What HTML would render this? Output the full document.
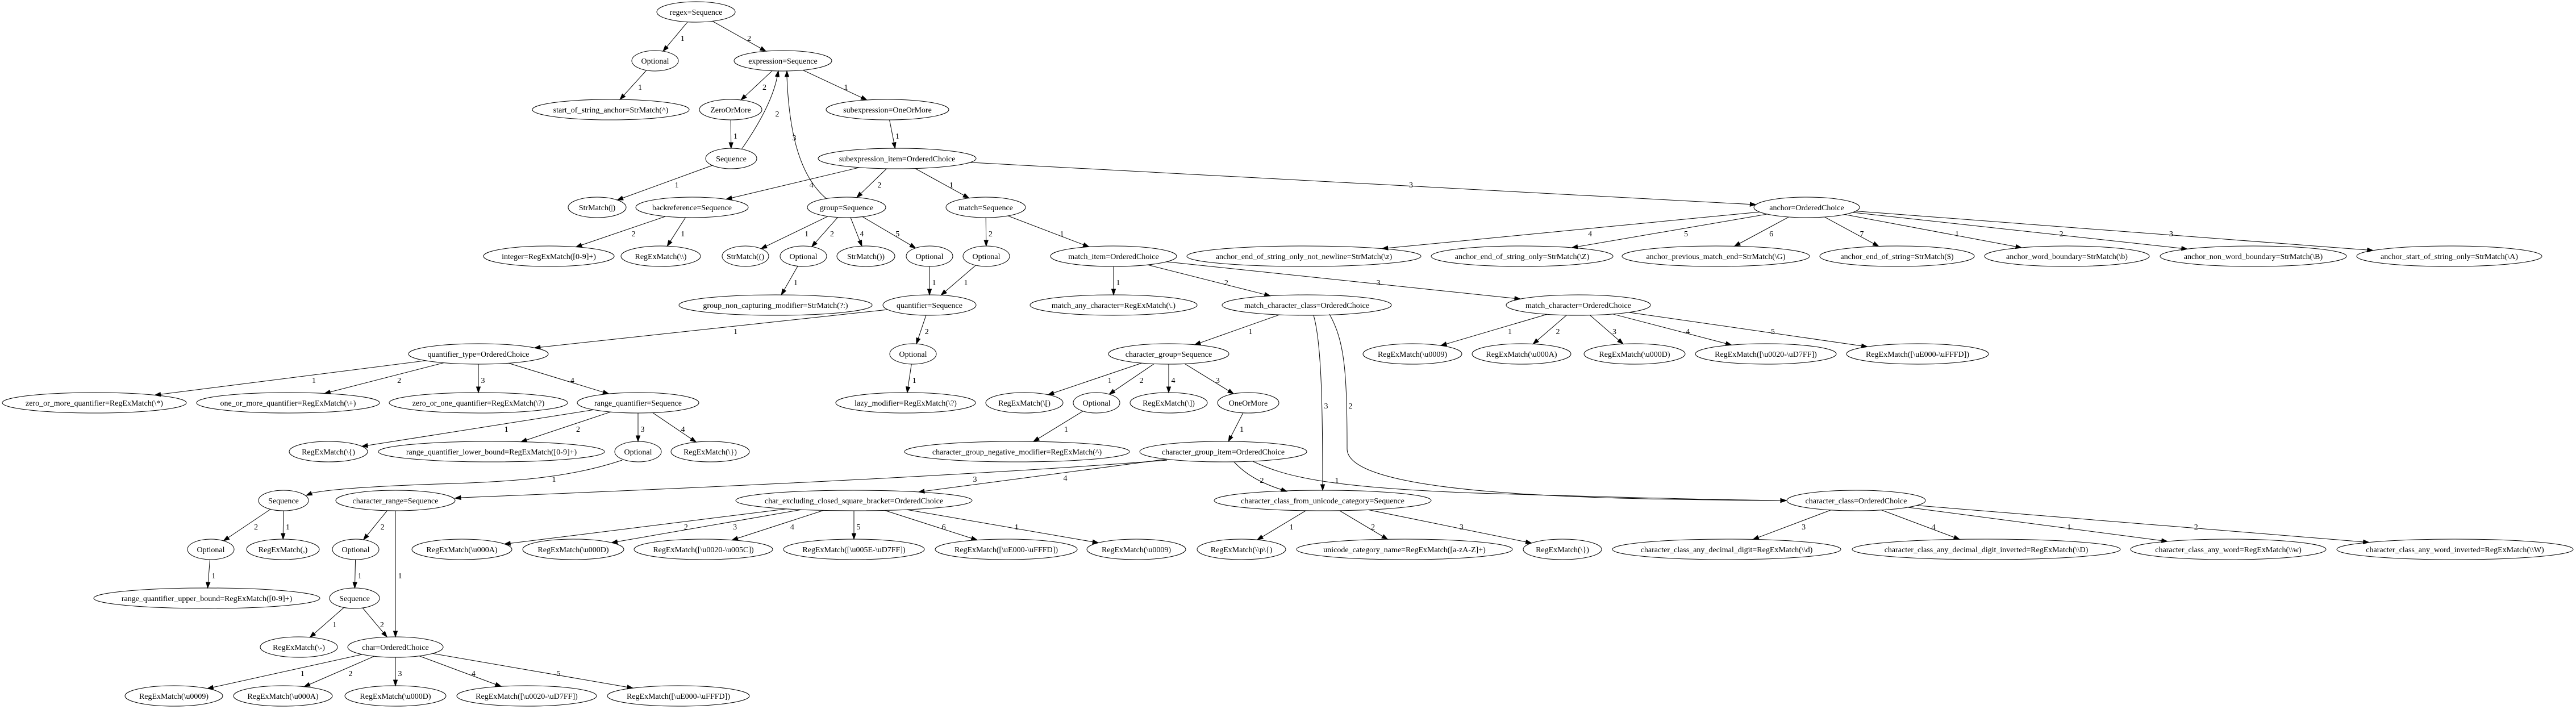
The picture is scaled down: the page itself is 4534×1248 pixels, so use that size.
<!DOCTYPE html>
<html><head><meta charset="utf-8"><style>
html,body{margin:0;padding:0;background:#fff}
svg{display:block}
text{font-family:"Liberation Serif",serif;font-size:14px;text-anchor:middle;fill:#000}
ellipse{fill:none;stroke:#000;stroke-width:1}
</style></head><body>
<svg id="s" width="4534" height="1248" viewBox="0 0 4534 1248" xmlns="http://www.w3.org/2000/svg">
<rect width="4534" height="1248" fill="#fff"/>
<g id="edges"></g>
<g id="nodes">
<ellipse id="regex" cx="1225" cy="21" rx="69" ry="18"/><text x="1225" y="26">regex=Sequence</text>
<ellipse id="opt1" cx="1153" cy="107" rx="41" ry="18"/><text x="1153" y="112">Optional</text>
<ellipse id="expr" cx="1378" cy="107" rx="86" ry="18"/><text x="1378" y="112">expression=Sequence</text>
<ellipse id="sosa" cx="1075" cy="193" rx="138" ry="18"/><text x="1075" y="198">start_of_string_anchor=StrMatch(^)</text>
<ellipse id="zom" cx="1286" cy="193" rx="55" ry="18"/><text x="1286" y="198">ZeroOrMore</text>
<ellipse id="subx" cx="1562" cy="193" rx="108" ry="18"/><text x="1562" y="198">subexpression=OneOrMore</text>
<ellipse id="seq1" cx="1287" cy="279" rx="45" ry="18"/><text x="1287" y="284">Sequence</text>
<ellipse id="subi" cx="1579" cy="279" rx="139" ry="18"/><text x="1579" y="284">subexpression_item=OrderedChoice</text>
<ellipse id="strbar" cx="1051" cy="365" rx="51" ry="18"/><text x="1051" y="370">StrMatch(|)</text>
<ellipse id="backref" cx="1218" cy="365" rx="99" ry="18"/><text x="1218" y="370">backreference=Sequence</text>
<ellipse id="group" cx="1490" cy="365" rx="69" ry="18"/><text x="1490" y="370">group=Sequence</text>
<ellipse id="match" cx="1735" cy="365" rx="70" ry="18"/><text x="1735" y="370">match=Sequence</text>
<ellipse id="anchor" cx="3180" cy="365" rx="93" ry="18"/><text x="3180" y="370">anchor=OrderedChoice</text>
<ellipse id="integer" cx="966" cy="451" rx="115" ry="18"/><text x="966" y="456">integer=RegExMatch([0-9]+)</text>
<ellipse id="rebs" cx="1163" cy="451" rx="70" ry="18"/><text x="1163" y="456">RegExMatch(\\)</text>
<ellipse id="stro" cx="1312" cy="451" rx="41" ry="18"/><text x="1312" y="456">StrMatch(()</text>
<ellipse id="opt2" cx="1414" cy="451" rx="41" ry="18"/><text x="1414" y="456">Optional</text>
<ellipse id="strc" cx="1524" cy="451" rx="51" ry="18"/><text x="1524" y="456">StrMatch())</text>
<ellipse id="opt3" cx="1636" cy="451" rx="41" ry="18"/><text x="1636" y="456">Optional</text>
<ellipse id="opt4" cx="1736" cy="451" rx="41" ry="18"/><text x="1736" y="456">Optional</text>
<ellipse id="mitem" cx="1960" cy="451" rx="111" ry="18"/><text x="1960" y="456">match_item=OrderedChoice</text>
<ellipse id="a1" cx="2295" cy="451" rx="206" ry="18"/><text x="2295" y="456">anchor_end_of_string_only_not_newline=StrMatch(\z)</text>
<ellipse id="a2" cx="2679" cy="451" rx="160" ry="18"/><text x="2679" y="456">anchor_end_of_string_only=StrMatch(\Z)</text>
<ellipse id="a3" cx="3020" cy="451" rx="165" ry="18"/><text x="3020" y="456">anchor_previous_match_end=StrMatch(\G)</text>
<ellipse id="a4" cx="3339" cy="451" rx="136" ry="18"/><text x="3339" y="456">anchor_end_of_string=StrMatch($)</text>
<ellipse id="a5" cx="3638" cy="451" rx="145" ry="18"/><text x="3638" y="456">anchor_word_boundary=StrMatch(\b)</text>
<ellipse id="a6" cx="3966" cy="451" rx="164" ry="18"/><text x="3966" y="456">anchor_non_word_boundary=StrMatch(\B)</text>
<ellipse id="a7" cx="4311" cy="451" rx="163" ry="18"/><text x="4311" y="456">anchor_start_of_string_only=StrMatch(\A)</text>
<ellipse id="gncm" cx="1365" cy="537" rx="170" ry="18"/><text x="1365" y="542">group_non_capturing_modifier=StrMatch(?:)</text>
<ellipse id="quant" cx="1636" cy="537" rx="82" ry="18"/><text x="1636" y="542">quantifier=Sequence</text>
<ellipse id="many" cx="1960" cy="537" rx="147" ry="18"/><text x="1960" y="542">match_any_character=RegExMatch(\.)</text>
<ellipse id="mcc" cx="2300" cy="537" rx="149" ry="18"/><text x="2300" y="542">match_character_class=OrderedChoice</text>
<ellipse id="mch" cx="2778" cy="537" rx="127" ry="18"/><text x="2778" y="542">match_character=OrderedChoice</text>
<ellipse id="qtype" cx="842" cy="623" rx="123" ry="18"/><text x="842" y="628">quantifier_type=OrderedChoice</text>
<ellipse id="opt5" cx="1607" cy="623" rx="41" ry="18"/><text x="1607" y="628">Optional</text>
<ellipse id="cgrp" cx="2057" cy="623" rx="106" ry="18"/><text x="2057" y="628">character_group=Sequence</text>
<ellipse id="mc1" cx="2486" cy="623" rx="87" ry="18"/><text x="2486" y="628">RegExMatch(\u0009)</text>
<ellipse id="mc2" cx="2678" cy="623" rx="87" ry="18"/><text x="2678" y="628">RegExMatch(\u000A)</text>
<ellipse id="mc3" cx="2877" cy="623" rx="89" ry="18"/><text x="2877" y="628">RegExMatch(\u000D)</text>
<ellipse id="mc4" cx="3108" cy="623" rx="124" ry="18"/><text x="3108" y="628">RegExMatch([\u0020-\uD7FF])</text>
<ellipse id="mc5" cx="3375" cy="623" rx="125" ry="18"/><text x="3375" y="628">RegExMatch([\uE000-\uFFFD])</text>
<ellipse id="q1" cx="166" cy="709" rx="162" ry="18"/><text x="166" y="714">zero_or_more_quantifier=RegExMatch(\*)</text>
<ellipse id="q2" cx="507" cy="709" rx="161" ry="18"/><text x="507" y="714">one_or_more_quantifier=RegExMatch(\+)</text>
<ellipse id="q3" cx="842" cy="709" rx="157" ry="18"/><text x="842" y="714">zero_or_one_quantifier=RegExMatch(\?)</text>
<ellipse id="rq" cx="1123" cy="709" rx="107" ry="18"/><text x="1123" y="714">range_quantifier=Sequence</text>
<ellipse id="lazy" cx="1594" cy="709" rx="123" ry="18"/><text x="1594" y="714">lazy_modifier=RegExMatch(\?)</text>
<ellipse id="lb" cx="1803" cy="709" rx="68" ry="18"/><text x="1803" y="714">RegExMatch(\[)</text>
<ellipse id="opt6" cx="1930" cy="709" rx="41" ry="18"/><text x="1930" y="714">Optional</text>
<ellipse id="rb" cx="2057" cy="709" rx="68" ry="18"/><text x="2057" y="714">RegExMatch(\])</text>
<ellipse id="oom" cx="2197" cy="709" rx="54" ry="18"/><text x="2197" y="714">OneOrMore</text>
<ellipse id="rlb" cx="578" cy="795" rx="69" ry="18"/><text x="578" y="800">RegExMatch(\{)</text>
<ellipse id="rlow" cx="865" cy="795" rx="199" ry="18"/><text x="865" y="800">range_quantifier_lower_bound=RegExMatch([0-9]+)</text>
<ellipse id="opt7" cx="1123" cy="795" rx="41" ry="18"/><text x="1123" y="800">Optional</text>
<ellipse id="rrb" cx="1250" cy="795" rx="69" ry="18"/><text x="1250" y="800">RegExMatch(\})</text>
<ellipse id="neg" cx="1790" cy="795" rx="198" ry="18"/><text x="1790" y="800">character_group_negative_modifier=RegExMatch(^)</text>
<ellipse id="cgi" cx="2153" cy="795" rx="147" ry="18"/><text x="2153" y="800">character_group_item=OrderedChoice</text>
<ellipse id="seq2" cx="499" cy="881" rx="44" ry="18"/><text x="499" y="886">Sequence</text>
<ellipse id="crange" cx="696" cy="881" rx="105" ry="18"/><text x="696" y="886">character_range=Sequence</text>
<ellipse id="cex" cx="1503" cy="881" rx="208" ry="18"/><text x="1503" y="886">char_excluding_closed_square_bracket=OrderedChoice</text>
<ellipse id="ccu" cx="2328" cy="881" rx="191" ry="18"/><text x="2328" y="886">character_class_from_unicode_category=Sequence</text>
<ellipse id="cc" cx="3267" cy="881" rx="122" ry="18"/><text x="3267" y="886">character_class=OrderedChoice</text>
<ellipse id="opt8" cx="371" cy="967" rx="41" ry="18"/><text x="371" y="972">Optional</text>
<ellipse id="comma" cx="498" cy="967" rx="64" ry="18"/><text x="498" y="972">RegExMatch(,)</text>
<ellipse id="opt9" cx="626" cy="967" rx="41" ry="18"/><text x="626" y="972">Optional</text>
<ellipse id="x2" cx="813" cy="967" rx="88" ry="18"/><text x="813" y="972">RegExMatch(\u000A)</text>
<ellipse id="x3" cx="1009" cy="967" rx="89" ry="18"/><text x="1009" y="972">RegExMatch(\u000D)</text>
<ellipse id="x4" cx="1238" cy="967" rx="122" ry="18"/><text x="1238" y="972">RegExMatch([\u0020-\u005C])</text>
<ellipse id="x5" cx="1503" cy="967" rx="124" ry="18"/><text x="1503" y="972">RegExMatch([\u005E-\uD7FF])</text>
<ellipse id="x6" cx="1771" cy="967" rx="125" ry="18"/><text x="1771" y="972">RegExMatch([\uE000-\uFFFD])</text>
<ellipse id="x1" cx="2000" cy="967" rx="87" ry="18"/><text x="2000" y="972">RegExMatch(\u0009)</text>
<ellipse id="u1" cx="2185" cy="967" rx="78" ry="18"/><text x="2185" y="972">RegExMatch(\\p\{)</text>
<ellipse id="u2" cx="2472" cy="967" rx="190" ry="18"/><text x="2472" y="972">unicode_category_name=RegExMatch([a-zA-Z]+)</text>
<ellipse id="u3" cx="2750" cy="967" rx="69" ry="18"/><text x="2750" y="972">RegExMatch(\})</text>
<ellipse id="c3" cx="3039" cy="967" rx="201" ry="18"/><text x="3039" y="972">character_class_any_decimal_digit=RegExMatch(\\d)</text>
<ellipse id="c4" cx="3496" cy="967" rx="236" ry="18"/><text x="3496" y="972">character_class_any_decimal_digit_inverted=RegExMatch(\\D)</text>
<ellipse id="c1" cx="3922" cy="967" rx="172" ry="18"/><text x="3922" y="972">character_class_any_word=RegExMatch(\\w)</text>
<ellipse id="c2" cx="4321" cy="967" rx="208" ry="18"/><text x="4321" y="972">character_class_any_word_inverted=RegExMatch(\\W)</text>
<ellipse id="rub" cx="364" cy="1053" rx="199" ry="18"/><text x="364" y="1058">range_quantifier_upper_bound=RegExMatch([0-9]+)</text>
<ellipse id="seq3" cx="624" cy="1053" rx="44" ry="18"/><text x="624" y="1058">Sequence</text>
<ellipse id="dash" cx="526" cy="1139" rx="68" ry="18"/><text x="526" y="1144">RegExMatch(\-)</text>
<ellipse id="char" cx="696" cy="1139" rx="84" ry="18"/><text x="696" y="1144">char=OrderedChoice</text>
<ellipse id="h1" cx="306" cy="1225" rx="86" ry="18"/><text x="306" y="1230">RegExMatch(\u0009)</text>
<ellipse id="h2" cx="498" cy="1225" rx="87" ry="18"/><text x="498" y="1230">RegExMatch(\u000A)</text>
<ellipse id="h3" cx="696" cy="1225" rx="89" ry="18"/><text x="696" y="1230">RegExMatch(\u000D)</text>
<ellipse id="h4" cx="927" cy="1225" rx="123" ry="18"/><text x="927" y="1230">RegExMatch([\u0020-\uD7FF])</text>
<ellipse id="h5" cx="1194" cy="1225" rx="125" ry="18"/><text x="1194" y="1230">RegExMatch([\uE000-\uFFFD])</text>
</g>
<g id="labels">
<text>1</text><text>2</text><text>1</text><text>2</text><text>1</text><text>1</text><text>2</text><text>1</text><text>1</text><text>4</text>
<text>2</text><text>1</text><text>3</text><text>2</text><text>1</text><text>1</text><text>2</text><text>4</text><text>5</text><text>3</text>
<text>1</text><text>1</text><text>2</text><text>1</text><text>1</text><text>4</text><text>5</text><text>6</text><text>7</text><text>1</text>
<text>2</text><text>3</text><text>1</text><text>2</text><text>3</text><text>1</text><text>2</text><text>1</text><text>1</text><text>3</text>
<text>2</text><text>1</text><text>2</text><text>3</text><text>4</text><text>5</text><text>1</text><text>2</text><text>3</text><text>4</text>
<text>1</text><text>2</text><text>3</text><text>4</text><text>1</text><text>2</text><text>4</text><text>3</text><text>1</text><text>1</text>
<text>1</text><text>3</text><text>4</text><text>2</text><text>1</text><text>2</text><text>1</text><text>2</text><text>1</text><text>2</text>
<text>3</text><text>4</text><text>5</text><text>6</text><text>1</text><text>1</text><text>2</text><text>3</text><text>3</text><text>4</text>
<text>1</text><text>2</text><text>1</text><text>1</text><text>1</text><text>2</text><text>1</text><text>2</text><text>3</text><text>4</text>
<text>5</text>
</g>
</svg>
<script>
(function(){
var E=[
["regex","opt1"],["regex","expr"],["opt1","sosa"],["expr","zom"],["expr","subx"],["zom","seq1"],
["seq1","expr",{d:"M1305,263 C1335,220 1360,175 1368,135",t:[1370,125],l:[1368,200]}],
["seq1","strbar"],["subx","subi"],["subi","backref"],["subi","group"],["subi","match"],["subi","anchor"],
["backref","integer"],["backref","rebs"],["group","stro"],["group","opt2"],["group","strc"],["group","opt3"],
["group","expr",{d:"M1455,350 C1400,305 1388,210 1385,135",t:[1385,125],l:[1398,242]}],
["opt2","gncm"],["opt3","quant"],["match","opt4"],["match","mitem"],["opt4","quant"],
["anchor","a1"],["anchor","a2"],["anchor","a3"],["anchor","a4"],["anchor","a5"],["anchor","a6"],["anchor","a7"],
["mitem","many"],["mitem","mcc"],["mitem","mch"],["quant","qtype"],["quant","opt5"],["opt5","lazy"],
["mcc","cgrp"],
["mcc","ccu",{d:"M2312,555 C2325,600 2328,700 2328,853",t:[2328,863],l:[2334,714]}],
["mcc","cc",{d:"M2340,553 C2366,600 2371,650 2371,790 C2371,872 2800,879 3134,881",t:[3144,881],l:[2377,714]}],
["mch","mc1"],["mch","mc2"],["mch","mc3"],["mch","mc4"],["mch","mc5"],
["qtype","q1"],["qtype","q2"],["qtype","q3"],["qtype","rq"],
["rq","rlb"],["rq","rlow"],["rq","opt7"],["rq","rrb"],
["cgrp","lb"],["cgrp","opt6"],["cgrp","rb"],["cgrp","oom"],
["opt6","neg"],["oom","cgi"],
["opt7","seq2",{d:"M1095,810 C1000,842 900,848 770,852 C650,856 575,862 549,868",t:[539,872],l:[975,843]}],
["cgi","crange",{d:"M2054,810 C1700,838 1200,860 811,876",t:[801,877],l:[1716,843]}],
["cgi","cex"],
["cgi","ccu",{d:"M2172,813 C2195,838 2225,852 2256,862",t:[2265,865],l:[2221,845]}],
["cgi","cc",{d:"M2205,812 C2260,838 2330,858 2600,868 C2900,877 3050,880 3134,881",t:[3144,881],l:[2353,845]}],
["seq2","opt8"],["seq2","comma"],["crange","opt9"],["crange","char"],
["cex","x2"],["cex","x3"],["cex","x4"],["cex","x5"],["cex","x6"],["cex","x1"],
["ccu","u1"],["ccu","u2"],["ccu","u3"],
["cc","c3"],["cc","c4"],["cc","c1"],["cc","c2"],
["opt8","rub"],["opt9","seq3"],["seq3","dash"],["seq3","char"],
["char","h1"],["char","h2"],["char","h3"],["char","h4"],["char","h5"]
];
var NS="http://www.w3.org/2000/svg",g=document.getElementById("edges");
var labs=document.getElementById("labels").getElementsByTagName("text");
function N(id){var e=document.getElementById(id);return{x:+e.getAttribute("cx"),y:+e.getAttribute("cy"),rx:+e.getAttribute("rx"),ry:+e.getAttribute("ry")};}
function clip(n,dx,dy){var L=Math.sqrt(dx*dx+dy*dy),ux=dx/L,uy=dy/L;var t=1/Math.sqrt(ux*ux/(n.rx*n.rx)+uy*uy/(n.ry*n.ry));return[n.x+ux*t,n.y+uy*t];}
function mk(tag,a){var e=document.createElementNS(NS,tag);for(var k in a)e.setAttribute(k,a[k]);g.appendChild(e);return e;}
function arrow(tx,ty,fx,fy){var dx=tx-fx,dy=ty-fy,L=Math.sqrt(dx*dx+dy*dy),ux=dx/L,uy=dy/L,bx=tx-ux*10,by=ty-uy*10;
mk("polygon",{points:tx+","+ty+" "+(bx-uy*3.5)+","+(by+ux*3.5)+" "+(bx+uy*3.5)+","+(by-ux*3.5),fill:"#000",stroke:"#000"});}
for(var i=0;i<E.length;i++){var e=E[i],lx,ly;
if(e[2]){var c=e[2];mk("path",{d:c.d,fill:"none",stroke:"#000"});
var p=c.d.trim().split(/[ ,MC]+/).filter(function(s){return s!=="";}).map(Number);var n=p.length;
arrow(c.t[0],c.t[1],p[n-2],p[n-1]);lx=c.l[0];ly=c.l[1];}
else{var a=N(e[0]),b=N(e[1]),dx=b.x-a.x,dy=b.y-a.y;
var s=clip(a,dx,dy),t=clip(b,-dx,-dy);var L=Math.sqrt(dx*dx+dy*dy);
var ex=t[0]-dx/L*10,ey=t[1]-dy/L*10;
mk("line",{x1:s[0],y1:s[1],x2:ex,y2:ey,stroke:"#000"});arrow(t[0],t[1],s[0],s[1]);
lx=(a.x+b.x)/2+8+0.06*Math.abs(dx);ly=(a.y+b.y)/2+3;}
if(labs[i]){labs[i].setAttribute("x",lx);labs[i].setAttribute("y",ly+5);}
}
})();
</script>
</body></html>
